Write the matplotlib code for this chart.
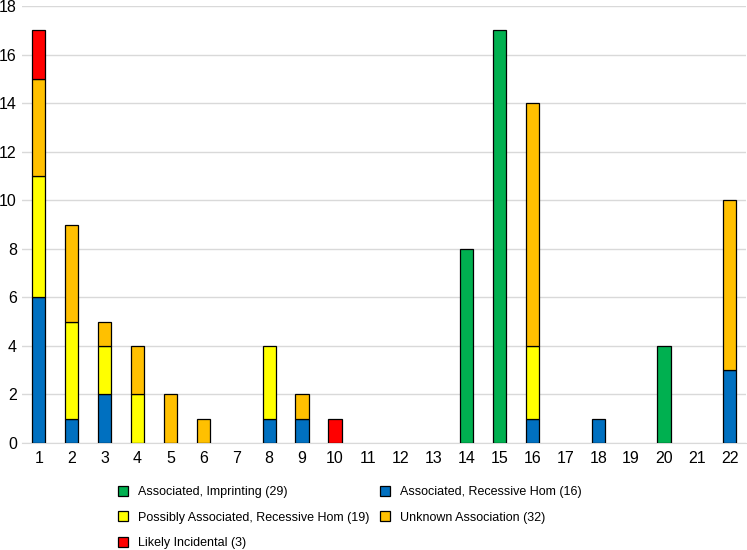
import numpy as np
import matplotlib
matplotlib.use("Agg")
from matplotlib import pyplot as plt
from matplotlib.patches import Patch

plt.rcParams['font.family'] = ['Liberation Sans', 'DejaVu Sans']

chroms = [str(i) for i in range(1, 23)]
# counts per chromosome, stacked bottom -> top
assoc_recessive = [6, 1, 2, 0, 0, 0, 0, 1, 1, 0, 0, 0, 0, 0, 0, 1, 0, 1, 0, 0, 0, 3]
assoc_imprinting = [0, 0, 0, 0, 0, 0, 0, 0, 0, 0, 0, 0, 0, 8, 17, 0, 0, 0, 0, 4, 0, 0]
possibly_recessive = [5, 4, 2, 2, 0, 0, 0, 3, 0, 0, 0, 0, 0, 0, 0, 3, 0, 0, 0, 0, 0, 0]
unknown = [4, 4, 1, 2, 2, 1, 0, 0, 1, 0, 0, 0, 0, 0, 0, 10, 0, 0, 0, 0, 0, 7]
incidental = [2, 0, 0, 0, 0, 0, 0, 0, 0, 1, 0, 0, 0, 0, 0, 0, 0, 0, 0, 0, 0, 0]

series = [
    ("Associated, Recessive Hom (16)", assoc_recessive, "#0070C0"),
    ("Associated, Imprinting (29)", assoc_imprinting, "#00B050"),
    ("Possibly Associated, Recessive Hom (19)", possibly_recessive, "#FFFF00"),
    ("Unknown Association (32)", unknown, "#FFC000"),
    ("Likely Incidental (3)", incidental, "#FF0000"),
]

fig = plt.figure(figsize=(7.47, 5.5), dpi=100)
ax = fig.add_axes([0.030, 0.1945, 0.969, 0.7945])

x = np.arange(len(chroms))
bottom = np.zeros(len(chroms))
for name, vals, col in series:
    vals = np.array(vals, dtype=float)
    mask = vals > 0
    ax.bar(x[mask], vals[mask], 0.4, bottom=bottom[mask], color=col,
           edgecolor="black", linewidth=0.9, zorder=3)
    bottom += vals

ax.set_xlim(-0.5, len(chroms) - 0.5)
ax.set_ylim(0, 18)
ax.set_yticks(range(0, 19, 2))
ax.set_xticks(x)
ax.set_xticklabels(chroms)
ax.tick_params(length=0, labelsize=11.5, pad=6)
ax.tick_params(axis='y', pad=4)
ax.grid(axis='y', color="#d9d9d9", linewidth=1, zorder=0)
for s in ["top", "right", "left"]:
    ax.spines[s].set_visible(False)
ax.spines["bottom"].set_color("#d9d9d9")

cols = {n: c for n, v, c in series}
order = ["Associated, Imprinting (29)", "Possibly Associated, Recessive Hom (19)",
         "Likely Incidental (3)", "Associated, Recessive Hom (16)",
         "Unknown Association (32)"]
handles = [Patch(facecolor=cols[n], edgecolor="black", linewidth=0.9, label=n) for n in order]
fig.legend(handles=handles, ncol=2, loc="upper left", bbox_to_anchor=(0.149, 0.128),
           frameon=False, fontsize=9, handlelength=0.85, handleheight=0.85,
           handletextpad=0.8, columnspacing=0.8, labelspacing=1.05, borderpad=0)

fig.savefig("out.png", dpi=100)
